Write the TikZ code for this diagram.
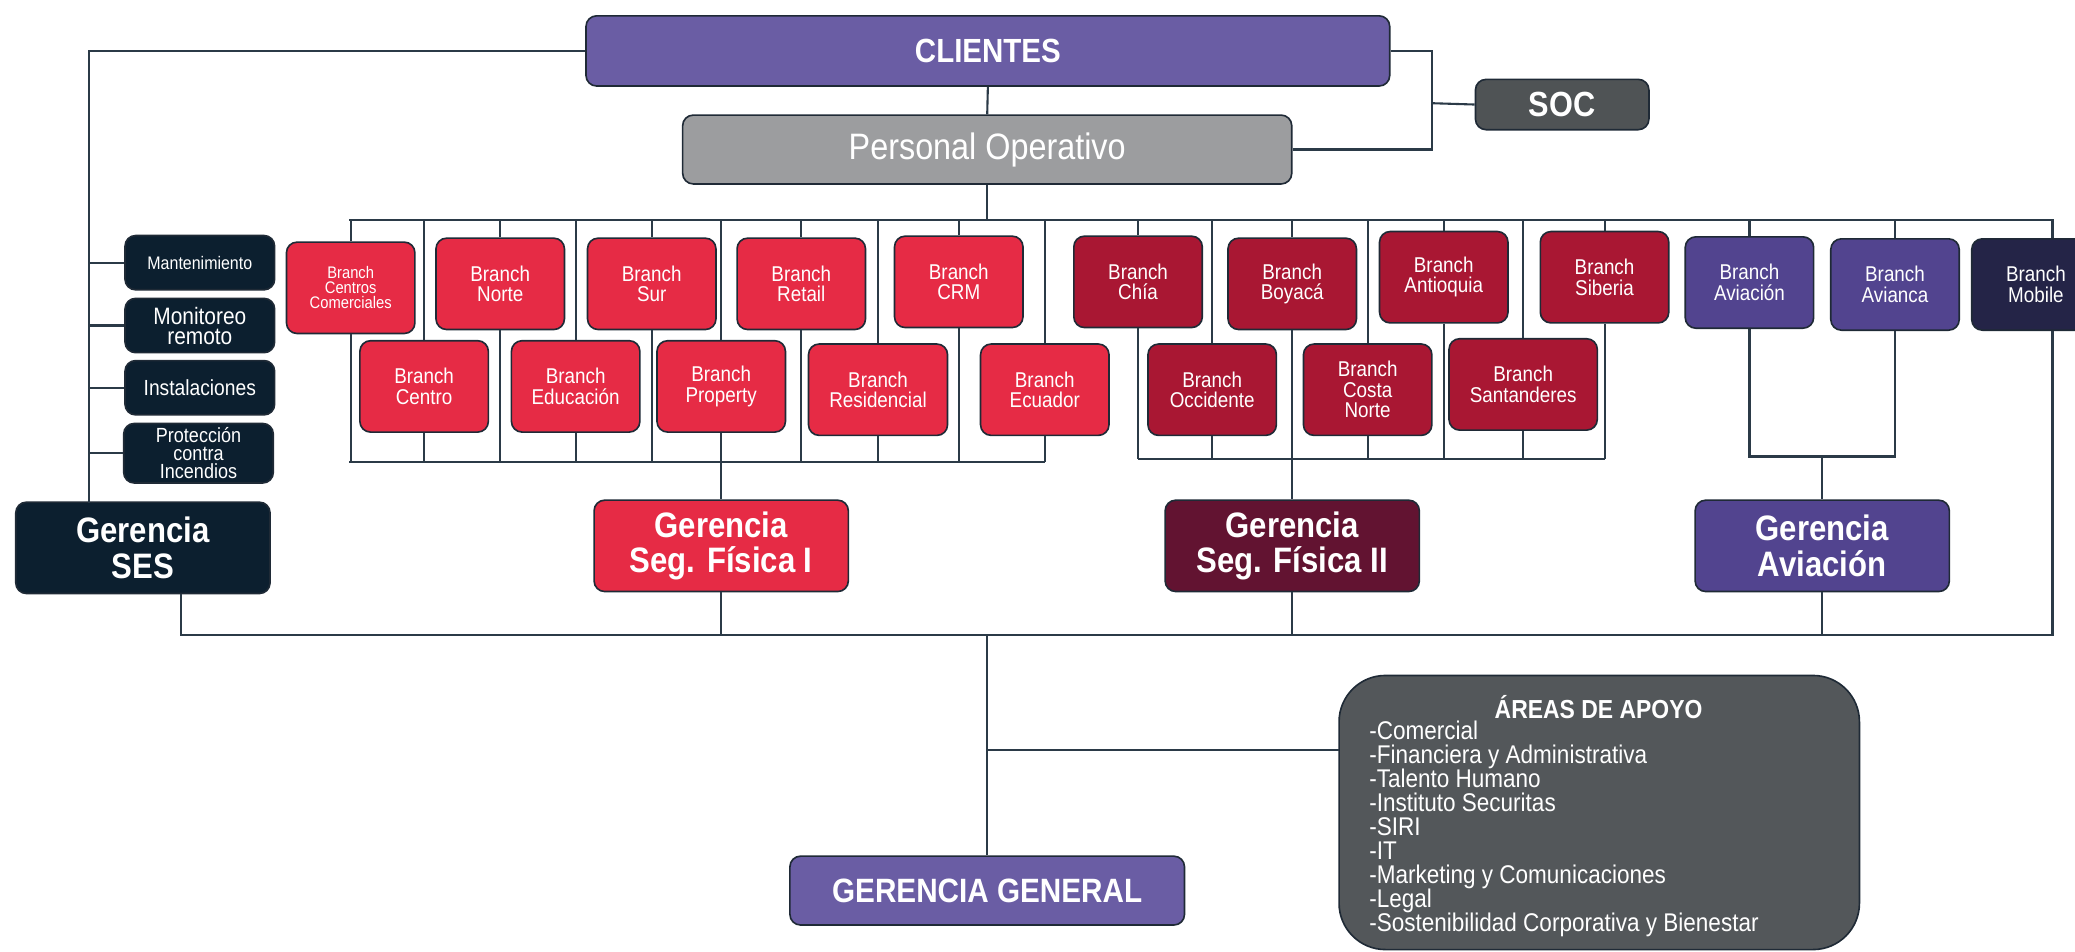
\documentclass[tikz,border=0pt]{standalone}
\usepackage{fontspec}
\newfontfamily\orgfont{Liberation Sans}[FakeStretch=0.88]
\definecolor{edgec}{HTML}{1F2A36}
\definecolor{linkc}{HTML}{2B3A47}
\definecolor{cliente}{HTML}{6A5DA4}
\definecolor{gris}{HTML}{9C9D9F}
\definecolor{socc}{HTML}{4F5355}
\definecolor{navy}{HTML}{0C1F2F}
\definecolor{redI}{HTML}{E62B45}
\definecolor{redII}{HTML}{A91733}
\definecolor{maroon}{HTML}{621331}
\definecolor{purA}{HTML}{52448F}
\definecolor{mobilec}{HTML}{242447}
\definecolor{apoyoc}{HTML}{53575A}

\begin{document}
\begin{tikzpicture}[
  x=0.01cm, y=-0.01cm,
  box/.style={draw=edgec, line width=0.35pt, rounded corners=0.08cm, text=white, align=center, inner sep=0pt},
  link/.style={draw=linkc, line width=0.45pt},
  branch/.style={box, minimum width=0.97cm, minimum height=0.69cm, font=\orgfont\fontsize{4.6}{4.4}\selectfont},
  segI/.style={branch, fill=redI},
  segII/.style={branch, fill=redII},
  avia/.style={branch, fill=purA},
  unit/.style={box, fill=navy, minimum width=1.13cm, minimum height=0.41cm},
  gerbox/.style={box, minimum width=1.92cm, minimum height=0.69cm, font=\orgfont\bfseries\fontsize{7.6}{7.6}\selectfont}
]
  \useasboundingbox (0,0) rectangle (1568,719);

  % top
  \node[box, fill=cliente, minimum width=6.07cm, minimum height=0.53cm, font=\orgfont\bfseries\fontsize{7.2}{8}\selectfont] (clientes) at (746.5,38.5) {CLIENTES};
  \node[box, fill=gris, minimum width=4.6cm, minimum height=0.52cm, font=\orgfont\fontsize{7.9}{9}\selectfont] (po) at (746,113) {Personal Operativo};
  \node[box, fill=socc, minimum width=1.31cm, minimum height=0.38cm, font=\orgfont\bfseries\fontsize{7.5}{8}\selectfont] (soc) at (1180.5,79) {SOC};

  % gerencia SES
  \node[gerbox, fill=navy] (ses) at (108,414) {Gerencia\\SES};
  \node[unit, font=\orgfont\fontsize{3.9}{4}\selectfont] (mant) at (151,198.5) {Mantenimiento};
  \node[unit, font=\orgfont\fontsize{5.1}{4.3}\selectfont] (moni) at (151,246) {Monitoreo\\remoto};
  \node[unit, font=\orgfont\fontsize{4.7}{5}\selectfont] (inst) at (151,293) {Instalaciones};
  \node[unit, minimum height=0.45cm, font=\orgfont\fontsize{4.4}{3.9}\selectfont] (prot) at (150,342.5) {Protección\\contra\\Incendios};

  % seg. fisica I
  \node[segI, font=\orgfont\fontsize{3.6}{3.2}\selectfont] (cc) at (265,217.5) {Branch\\Centros\\Comerciales};
  \node[segI] (norte) at (378,214.5) {Branch\\Norte};
  \node[segI] (sur) at (492.5,214.5) {Branch\\Sur};
  \node[segI] (retail) at (605.5,214.5) {Branch\\Retail};
  \node[segI] (crm) at (724.5,213) {Branch\\CRM};
  \node[segI] (centro) at (320.5,292) {Branch\\Centro};
  \node[segI] (educ) at (435,292) {Branch\\Educación};
  \node[segI] (prop) at (545,292) {Branch\\Property};
  \node[segI, minimum width=1.05cm] (resid) at (663.5,294.5) {Branch\\Residencial};
  \node[segI] (ecua) at (789.5,294.5) {Branch\\Ecuador};
  \node[gerbox, fill=redI] (gsfI) at (545,412.5) {Gerencia\\Seg. Física I};

  % seg. fisica II
  \node[segII] (chia) at (860,213) {Branch\\Chía};
  \node[segII] (boyaca) at (976.5,214.5) {Branch\\Boyacá};
  \node[segII] (antioquia) at (1091,209.5) {Branch\\Antioquia};
  \node[segII] (siberia) at (1212.5,209.5) {Branch\\Siberia};
  \node[segII] (occid) at (916,294.5) {Branch\\Occidente};
  \node[segII] (costa) at (1033.5,294.5) {Branch\\Costa\\Norte};
  \node[segII, minimum width=1.12cm] (santand) at (1151,290.5) {Branch\\Santanderes};
  \node[gerbox, fill=maroon] (gsfII) at (976.5,412.5) {Gerencia\\Seg. Física II};

  % aviacion
  \node[avia] (aviacion) at (1322,213.5) {Branch\\Aviación};
  \node[avia] (avianca) at (1432,215) {Branch\\Avianca};
  \node[branch, fill=mobilec] (mobile) at (1538.5,215) {Branch\\Mobile};
  \node[gerbox, fill=purA] (gav) at (1377,412.5) {Gerencia\\Aviación};

  % bottom
  \node[box, fill=cliente, minimum width=2.98cm, minimum height=0.52cm, font=\orgfont\bfseries\fontsize{7.25}{8}\selectfont] (gg) at (746,673) {GERENCIA GENERAL};
  \node[box, fill=apoyoc, rounded corners=0.35cm, minimum width=3.93cm, minimum height=2.07cm] (apoyo) at (1208.5,614) {};
  \node[font=\orgfont\bfseries\fontsize{5.6}{6}\selectfont, text=white, inner sep=0pt] (apoyotit) at (1208,534) {ÁREAS DE APOYO};
  \node[font=\orgfont\fontsize{5.5}{5.15}\selectfont, text=white, align=left, anchor=west, inner sep=0pt] (apoyolist) at (1034,626.5) {-Comercial\\-Financiera y Administrativa\\-Talento Humano\\-Instituto Securitas\\-SIRI\\-IT\\-Marketing y Comunicaciones\\-Legal\\-Sostenibilidad Corporativa y Bienestar};

  % buses
  \coordinate (socj) at (1082,78);
  \coordinate (sesin) at (67,380);
  \coordinate (topW) at (264,166);
  \coordinate (topE) at (1551,166);
  \coordinate (lowI) at (264,349);
  \coordinate (lowIE) at (790,349);
  \coordinate (lowII) at (860,347);
  \coordinate (lowIIE) at (1213,347);
  \coordinate (lowA) at (1377,345);
  \coordinate (basW) at (137,480);
  \coordinate (basE) at (1551,480);
  \coordinate (apoyoin) at (1012,567);

  \draw[link] (clientes.south) -- (po.north);
  \draw[link] (clientes.east) -| (socj) |- (po.east);
  \draw[link] (soc.west) -- (socj);
  \draw[link] (clientes.west) -| (sesin);
  \foreach \u in {mant,moni,inst,prot}
    \draw[link] (\u.west) -- (\u.west -| sesin);

  \draw[link] (po.south) -- (po.south |- topW);
  \draw[link] (topW) -- (topE) -- (mobile.north -| topE);
  \draw[link] (lowI) -- (lowIE);
  \foreach \b in {cc,norte,sur,retail,crm,centro,educ,prop,resid,ecua}
    \draw[link] (\b.north) -- (\b.north |- topW) (\b.south) -- (\b.south |- lowI);
  \draw[link] (prop.south) -- (gsfI.north);

  \draw[link] (lowII) -- (lowIIE);
  \foreach \b in {chia,boyaca,antioquia,siberia,occid,costa,santand}
    \draw[link] (\b.north) -- (\b.north |- topW) (\b.south) -- (\b.south |- lowII);
  \draw[link] (boyaca.south) -- (gsfII.north);

  \draw[link] (aviacion.north) -- (aviacion.north |- topW);
  \draw[link] (avianca.north) -- (avianca.north |- topW);
  \draw[link] (aviacion.south) |- (lowA) -| (avianca.south);
  \draw[link] (lowA) -- (gav.north);

  \draw[link] (ses.south -| basW) -- (basW) -- (basE) -- (mobile.south -| basE);
  \foreach \g in {gsfI,gsfII,gav}
    \draw[link] (\g.south) -- (\g.south |- basW);
  \draw[link] (gg.north |- basW) -- (gg.north);
  \draw[link] (gg.north |- apoyoin) -- (apoyoin);
\end{tikzpicture}
\end{document}
